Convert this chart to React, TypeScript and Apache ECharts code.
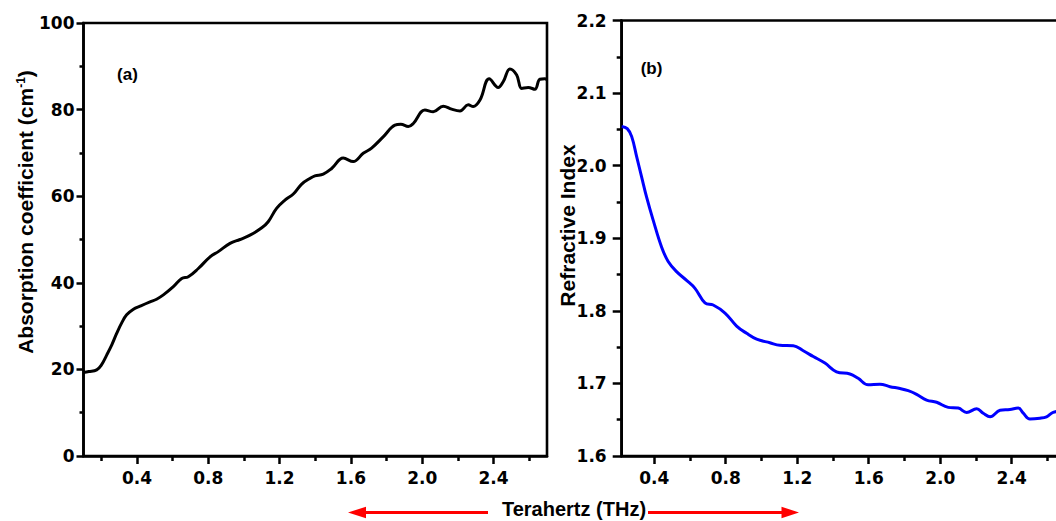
import React, { useEffect, useRef } from "react";
import * as echarts from "echarts";

// ---- Data ----
const freqA = [0.1, 0.13, 0.174, 0.2, 0.23, 0.26, 0.286, 0.315, 0.342, 0.38, 0.417, 0.473, 0.51, 0.548, 0.604, 0.651, 0.688, 0.744, 0.81, 0.856, 0.922, 0.978, 1.034, 1.1, 1.136, 1.183, 1.23, 1.277, 1.324, 1.37, 1.398, 1.445, 1.492, 1.557, 1.613, 1.669, 1.716, 1.781, 1.847, 1.88, 1.922, 1.95, 2.015, 2.062, 2.118, 2.165, 2.212, 2.258, 2.286, 2.324, 2.376, 2.426, 2.455, 2.492, 2.53, 2.558, 2.595, 2.632, 2.66, 2.688, 2.7];
const absorption = [19.3, 19.5, 19.9, 21.0, 23.3, 25.8, 28.3, 30.8, 32.6, 33.9, 34.6, 35.6, 36.2, 37.2, 39.1, 41.0, 41.4, 43.3, 46.0, 47.2, 49.1, 50.0, 51.0, 52.7, 54.1, 57.2, 59.1, 60.5, 62.8, 64.1, 64.7, 65.1, 66.4, 68.8, 68.0, 69.9, 71.1, 73.7, 76.4, 76.6, 76.1, 76.8, 79.9, 79.5, 80.8, 80.1, 79.7, 81.1, 80.7, 82.2, 87.1, 85.1, 86.5, 89.4, 88.0, 84.9, 85.1, 84.7, 87.0, 87.1, 86.9];

const freqB = [0.218, 0.249, 0.274, 0.302, 0.329, 0.357, 0.394, 0.441, 0.478, 0.525, 0.581, 0.628, 0.684, 0.73, 0.796, 0.861, 0.917, 0.973, 1.047, 1.103, 1.178, 1.234, 1.29, 1.355, 1.42, 1.495, 1.541, 1.597, 1.663, 1.719, 1.775, 1.821, 1.868, 1.924, 1.98, 2.045, 2.101, 2.148, 2.204, 2.241, 2.279, 2.335, 2.39, 2.437, 2.465, 2.502, 2.558, 2.595, 2.632, 2.7];
const refractive = [2.054, 2.051, 2.04, 2.012, 1.985, 1.957, 1.925, 1.888, 1.868, 1.854, 1.842, 1.831, 1.811, 1.808, 1.797, 1.779, 1.769, 1.761, 1.756, 1.7525, 1.752, 1.745, 1.737, 1.728, 1.716, 1.713, 1.707, 1.698, 1.699, 1.6955, 1.693, 1.69, 1.685, 1.677, 1.674, 1.667, 1.666, 1.66, 1.665, 1.659, 1.654, 1.663, 1.664, 1.666, 1.659, 1.651, 1.652, 1.654, 1.66, 1.663];

const xMajor = [0.4, 0.8, 1.2, 1.6, 2.0, 2.4];
const xMinor = [0.2, 0.6, 1.0, 1.4, 1.8, 2.2, 2.6];
const yMajorA = [0, 20, 40, 60, 80, 100];
const yMinorA = [10, 30, 50, 70, 90];
const yMajorB = [1.6, 1.7, 1.8, 1.9, 2.0, 2.1, 2.2];
const yMinorB = [1.65, 1.75, 1.85, 1.95, 2.05, 2.15];

const titleB = "Refractive Index";
const titleX = "Terahertz (THz)";

const TICK_FONT = "DejaVu Sans";
const TITLE_FONT = "Liberation Sans";

function majorAxis(kind: "x" | "y", grid: number, min: number, max: number, ticks: number[], tickLen: number, margin: number, fmt: (v: number) => string) {
  return {
    type: "value",
    gridIndex: grid,
    position: kind === "x" ? "bottom" : "left",
    min,
    max,
    axisLine: { show: true, onZero: false, lineStyle: { color: "#000", width: 2.6 } },
    axisTick: { show: true, inside: false, length: tickLen, customValues: ticks, lineStyle: { color: "#000", width: 2.5 } },
    axisLabel: {
      show: true,
      customValues: ticks,
      margin,
      formatter: (v: number) => fmt(v),
      color: "#000",
      fontFamily: TICK_FONT,
      fontWeight: "bold",
      fontSize: 17,
    },
    splitLine: { show: false },
  };
}

function minorAxis(kind: "x" | "y", grid: number, min: number, max: number, ticks: number[], tickLen: number) {
  return {
    type: "value",
    gridIndex: grid,
    position: kind === "x" ? "bottom" : "left",
    min,
    max,
    axisLine: { show: false, onZero: false },
    axisTick: { show: true, inside: false, length: tickLen, customValues: ticks, lineStyle: { color: "#000", width: 2.5 } },
    axisLabel: { show: false },
    splitLine: { show: false },
  };
}

export default function App() {
  const ref = useRef<HTMLDivElement>(null);

  useEffect(() => {
    if (!ref.current) return;
    const chart = echarts.init(ref.current, undefined, { renderer: "svg" });
    const f1 = (v: number) => v.toFixed(1);
    const f0 = (v: number) => String(Math.round(v));

    const option = {
      animation: false,
      backgroundColor: "#fff",
      grid: [
        { left: 83.5, top: 23, width: 463.5, height: 433, show: true, borderColor: "#000", borderWidth: 2.6, backgroundColor: "transparent", containLabel: false },
        { left: 621.7, top: 20.5, width: 443.6, height: 435.5, show: true, borderColor: "#000", borderWidth: 2.6, backgroundColor: "transparent", containLabel: false },
      ],
      xAxis: [
        majorAxis("x", 0, 0.1, 2.7, xMajor, 8, 13, f1),
        minorAxis("x", 0, 0.1, 2.7, xMinor, 5),
        majorAxis("x", 1, 0.218, 2.7, xMajor, 8, 13, f1),
        minorAxis("x", 1, 0.218, 2.7, xMinor.filter((v) => v > 0.218), 5),
      ],
      yAxis: [
        majorAxis("y", 0, 0, 100, yMajorA, 7, 9, f0),
        minorAxis("y", 0, 0, 100, yMinorA, 4),
        majorAxis("y", 1, 1.6, 2.2, yMajorB, 9, 15, f1),
        minorAxis("y", 1, 1.6, 2.2, yMinorB, 5),
      ],
      series: [
        {
          type: "line",
          xAxisIndex: 0,
          yAxisIndex: 0,
          data: freqA.map((f, i) => [f, absorption[i]]),
          showSymbol: false,
          smooth: 0.4,
          clip: true,
          lineStyle: { color: "#000", width: 3 },
        },
        {
          type: "line",
          xAxisIndex: 2,
          yAxisIndex: 2,
          data: freqB.map((f, i) => [f, refractive[i]]),
          showSymbol: false,
          smooth: 0.4,
          clip: true,
          lineStyle: { color: "#0000ff", width: 3 },
        },
      ],
      graphic: [
        {
          type: "text",
          x: 25,
          y: 212,
          rotation: Math.PI / 2,
          style: {
            text: "{a|Absorption coefficient (cm}{s|-1}{a|)}",
            rich: {
              a: { fontFamily: TITLE_FONT, fontWeight: "bold", fontSize: 21, fill: "#000" },
              s: { fontFamily: TITLE_FONT, fontWeight: "bold", fontSize: 12, fill: "#000", verticalAlign: "top" },
            },
            align: "center",
            verticalAlign: "middle",
          },
        },
        {
          type: "text",
          x: 567.5,
          y: 225.5,
          rotation: Math.PI / 2,
          style: { text: titleB, fontFamily: TITLE_FONT, fontWeight: "bold", fontSize: 21, fill: "#000", align: "center", verticalAlign: "middle" },
        },
        {
          type: "text",
          x: 574,
          y: 509,
          style: { text: titleX, fontFamily: TITLE_FONT, fontWeight: "bold", fontSize: 20, fill: "#000", align: "center", verticalAlign: "middle" },
        },
        {
          type: "text",
          x: 127.5,
          y: 74.5,
          style: { text: "(a)", fontFamily: TITLE_FONT, fontWeight: "bold", fontSize: 17, fill: "#000", align: "center", verticalAlign: "middle" },
        },
        {
          type: "text",
          x: 651.5,
          y: 68.5,
          style: { text: "(b)", fontFamily: TITLE_FONT, fontWeight: "bold", fontSize: 17, fill: "#000", align: "center", verticalAlign: "middle" },
        },
        { type: "line", shape: { x1: 488, y1: 512.5, x2: 362, y2: 512.5 }, style: { stroke: "#ff0000", lineWidth: 3 } },
        { type: "polygon", shape: { points: [[348, 512.5], [366, 506.7], [366, 518.3]] }, style: { fill: "#ff0000" } },
        { type: "line", shape: { x1: 648, y1: 512.5, x2: 785, y2: 512.5 }, style: { stroke: "#ff0000", lineWidth: 3 } },
        { type: "polygon", shape: { points: [[799, 512.5], [781.5, 506.7], [781.5, 518.3]] }, style: { fill: "#ff0000" } },
      ],
    };
    chart.setOption(option as any);
    return () => chart.dispose();
  }, []);

  return (
    <div style={{ position: "fixed", left: 0, top: 0, width: 1056, height: 521, overflow: "hidden", background: "#fff" }}>
      <div ref={ref} style={{ width: 1080, height: 521 }} />
    </div>
  );
}
